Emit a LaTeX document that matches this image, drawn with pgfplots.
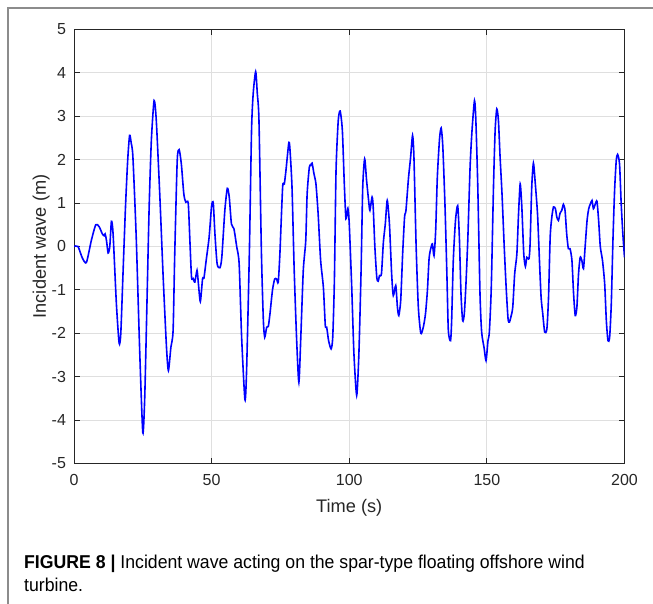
\documentclass[border=0pt]{standalone}
\usepackage{pgfplots}
\pgfplotsset{compat=1.18}
\usepackage{fontspec}
\setmainfont{Liberation Sans}
\newfontfamily\capfont[FakeStretch=0.95]{Liberation Sans}
\definecolor{tickgray}{RGB}{38,38,38}
\definecolor{gridgray}{RGB}{223,223,223}
\definecolor{framegray}{RGB}{140,140,140}
\begin{document}
\begin{tikzpicture}
\useasboundingbox (0pt,0pt) rectangle (653pt,604pt);
\draw[framegray, line width=1.5pt] (8pt,0pt) -- (8pt,596pt) -- (653pt,596pt);
\begin{axis}[at={(74pt,140.5pt)}, anchor=south west, scale only axis,
  width=550.5pt, height=434pt,
  xmin=0, xmax=200, ymin=-5, ymax=5,
  xtick={0,50,100,150,200}, ytick={-5,-4,-3,-2,-1,0,1,2,3,4,5},
  grid=major, major grid style={gridgray, line width=0.8pt},
  tick align=inside, major tick length=5.5pt,
  axis line style={tickgray, line width=0.8pt},
  every tick/.style={tickgray, line width=0.8pt},
  tick label style={font=\fontsize{16}{18}\selectfont, text=tickgray},
  xticklabel style={yshift=-7pt},
  yticklabel style={xshift=-4.5pt},
  /pgf/number format/assume math mode=true,
  xlabel={Time (s)}, ylabel={Incident wave (m)},
  label style={font=\fontsize{18.2}{20}\selectfont, text=tickgray},
  xlabel style={at={(axis description cs:0.5,0)}, anchor=base, yshift=-49.2pt},
  ylabel style={at={(axis description cs:0,0.5)}, anchor=base, yshift=28pt},
]
\addplot[color={rgb,255:red,0;green,0;blue,255}, line width=1.6pt, smooth, tension=0.4] coordinates {
(0,0) (1.45,0) (3.0,-0.26) (4.5,-0.37) (6.3,0.14) (7.9,0.50) (9.1,0.46) (10.3,0.29) (10.9,0.25) (11.3,0.29) (11.8,0.14) (12.4,-0.15) (13.0,0.00) (13.6,0.58) (14.2,0.29) (15.4,-1.32) (16.4,-2.23) (17.0,-2.00) (17.8,-0.63) (18.7,0.90) (19.5,1.98) (20.2,2.56) (20.8,2.38) (21.4,2.06) (22.6,0.22) (23.9,-2.47) (25.0,-4.29) (25.7,-3.47) (26.5,-1.32) (27.3,0.90) (28.1,2.44) (29.1,3.36) (29.9,2.90) (31.2,1.14) (32.4,-0.71) (33.6,-2.32) (34.3,-2.86) (35.2,-2.32) (36.0,-1.94) (36.6,-0.17) (37.5,1.98) (38.2,2.23) (39.0,1.90) (39.9,1.21) (40.6,1.02) (41.5,1.00) (42.1,0.14) (42.7,-0.71) (43.3,-0.74) (43.9,-0.82) (44.7,-0.55) (45.2,-0.86) (45.9,-1.27) (46.7,-0.75) (47.2,-0.73) (48.1,-0.28) (49.1,0.22) (50.0,0.94) (50.6,1.00) (51.2,0.29) (52.0,-0.40) (53.0,-0.49) (53.7,-0.25) (54.8,0.83) (55.7,1.34) (56.4,1.14) (57.2,0.52) (58.1,0.41) (59.1,0.00) (60.0,-0.40) (60.9,-2.09) (62.1,-3.53) (62.7,-2.86) (63.7,-0.17) (64.5,2.67) (65.1,3.52) (66.0,4.03) (66.6,3.52) (67.2,2.90) (68.1,-0.17) (68.8,-1.71) (69.3,-2.09) (70.0,-1.86) (70.6,-1.84) (71.2,-1.55) (72.1,-1.01) (72.9,-0.75) (73.6,-0.75) (74.2,-0.82) (74.8,-0.17) (75.8,1.37) (76.4,1.44) (77.0,1.75) (78.0,2.37) (78.4,2.29) (79.2,1.37) (80.0,-0.55) (80.9,-2.17) (81.7,-3.13) (82.4,-2.09) (83.3,-0.55) (84.2,0.14) (84.7,1.21) (85.5,1.83) (86.0,1.87) (86.5,1.92) (87.2,1.67) (87.9,1.44) (88.7,0.75) (89.6,-0.32) (90.6,-0.94) (91.3,-1.82) (91.8,-1.86) (92.5,-2.17) (93.4,-2.36) (94.0,-2.09) (94.6,-0.78) (95.2,1.75) (96.0,2.90) (96.7,3.12) (97.5,2.67) (98.2,1.45) (98.8,0.64) (99.5,0.88) (100.0,0.52) (100.9,-0.94) (101.7,-2.47) (102.7,-3.43) (103.5,-2.47) (104.3,-0.55) (104.9,1.37) (105.6,2.02) (106.3,1.52) (107.1,1.02) (107.5,0.83) (108.3,1.14) (108.7,0.91) (109.3,0.00) (110.0,-0.71) (110.5,-0.80) (111.0,-0.67) (111.7,-0.63) (112.4,0.10) (113.1,0.52) (113.8,1.06) (114.6,0.52) (115.4,-0.63) (116.0,-1.13) (116.9,-0.90) (117.5,-1.40) (118.0,-1.59) (118.7,-1.24) (119.4,-0.17) (120.1,0.68) (120.6,0.83) (121.5,1.56) (122.3,2.06) (123.0,2.56) (123.5,2.06) (124.3,0.00) (125.1,-1.40) (126.0,-2.00) (126.9,-1.86) (127.7,-1.55) (128.4,-1.01) (129.0,-0.28) (129.6,-0.05) (130.2,0.06) (130.8,-0.21) (131.4,0.37) (132.0,1.60) (132.8,2.48) (133.4,2.73) (134.0,2.29) (134.8,0.91) (135.5,-0.71) (136.0,-1.94) (136.8,-2.17) (137.2,-1.71) (137.8,-0.32) (138.6,0.60) (139.4,0.94) (140.0,0.22) (140.6,-1.09) (141.2,-1.71) (141.8,-1.55) (142.4,-0.86) (143.1,0.22) (143.9,1.83) (144.6,2.67) (145.5,3.36) (146.0,2.90) (146.7,1.37) (147.5,-1.09) (148.1,-1.97) (149.0,-2.34) (149.7,-2.63) (150.4,-2.17) (150.9,-1.97) (151.6,-0.94) (152.4,1.37) (153.0,2.67) (153.6,3.17) (154.2,2.90) (154.8,2.06) (155.5,1.21) (156.3,0.00) (157.0,-0.94) (157.7,-1.67) (158.2,-1.74) (158.7,-1.63) (159.4,-1.40) (160.1,-0.63) (160.9,-0.17) (161.5,0.75) (162.1,1.44) (162.7,0.91) (163.4,-0.17) (164.0,-0.46) (164.5,-0.25) (165.3,-0.28) (165.7,0.06) (166.3,1.37) (166.9,1.92) (167.5,1.52) (168.4,0.75) (169.1,-0.32) (169.7,-1.17) (170.3,-1.55) (171.0,-1.97) (171.8,-1.90) (172.4,-1.17) (173.0,0.22) (173.6,0.68) (174.2,0.91) (174.9,0.87) (175.4,0.68) (176.0,0.60) (176.6,0.77) (177.2,0.83) (177.8,0.97) (178.4,0.83) (179.0,0.29) (179.6,-0.05) (180.2,-0.05) (180.9,-0.32) (181.5,-1.09) (182.1,-1.59) (182.7,-1.40) (183.3,-0.63) (183.9,-0.25) (184.5,-0.32) (185.1,-0.51) (185.7,0.00) (186.4,0.60) (187.0,0.87) (187.6,0.98) (188.2,1.06) (188.7,0.87) (189.4,0.98) (190.0,1.04) (190.6,0.60) (191.2,0.00) (192.0,-0.32) (192.8,-0.86) (193.4,-1.71) (194.0,-2.17) (194.6,-2.09) (195.2,-1.32) (195.8,0.14) (196.4,1.29) (197.0,1.98) (197.5,2.12) (198.2,1.90) (198.8,0.98) (199.4,0.29) (200.0,-0.25)
};
\end{axis}
\node[anchor=base west, inner sep=0pt, text=black] at (24pt,35.7pt) {\capfont\fontsize{18.6}{22}\selectfont\textbf{FIGURE 8 |} Incident wave acting on the spar-type floating offshore wind};
\node[anchor=base west, inner sep=0pt, text=black] at (24pt,12.3pt) {\capfont\fontsize{18.6}{22}\selectfont turbine.};
\end{tikzpicture}
\end{document}
